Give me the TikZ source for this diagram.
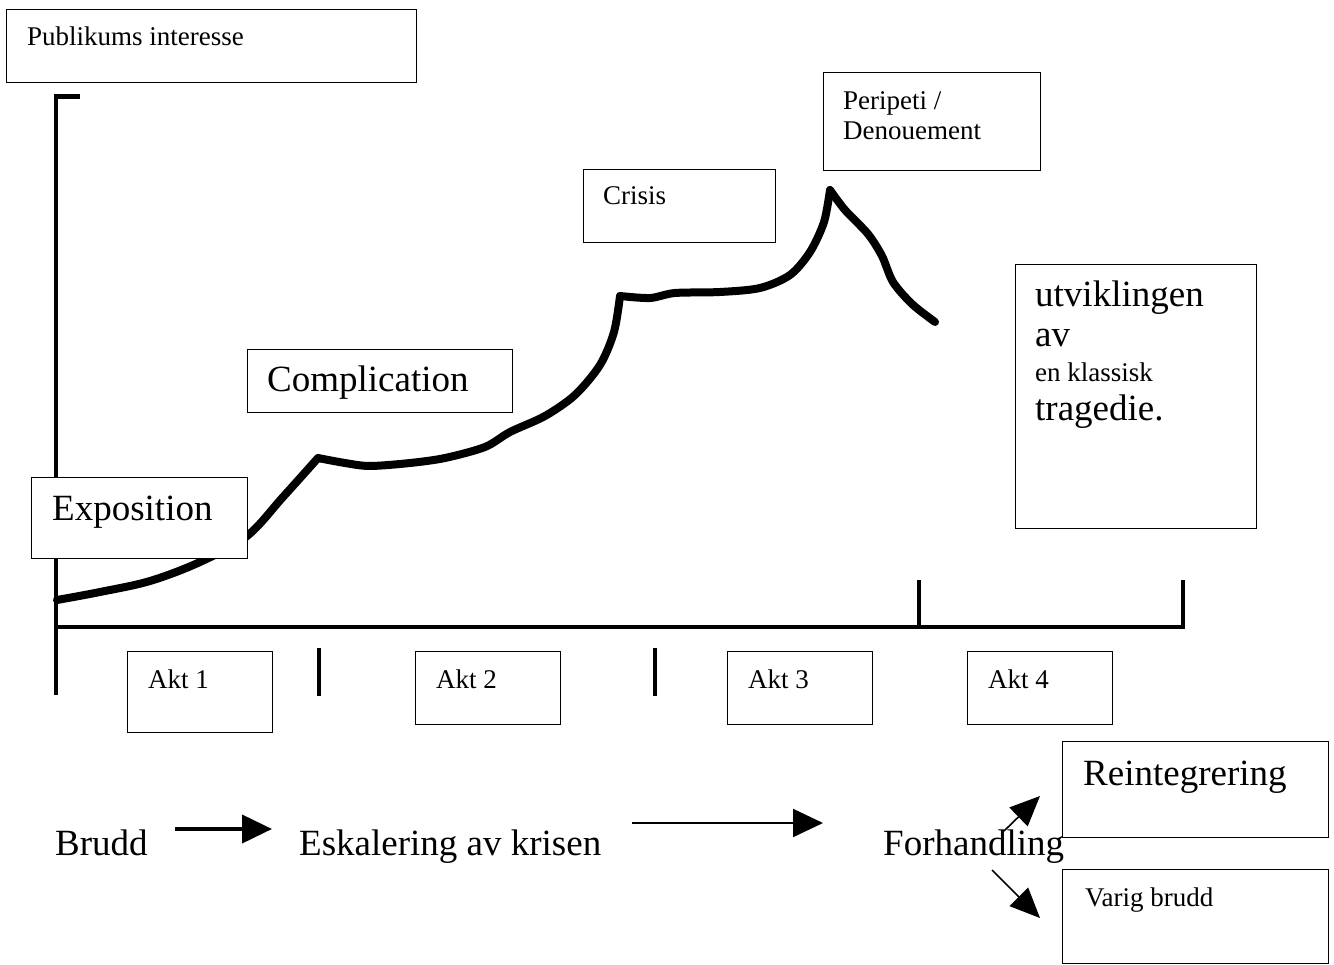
\documentclass[tikz,border=0pt]{standalone}
\usepackage{fontspec}
\setmainfont{Liberation Serif}
\usetikzlibrary{arrows.meta}
\tikzset{
  box/.style={draw=black, line width=1.2pt, fill=white, inner sep=0pt, anchor=north west},
  big/.style={font=\fontsize{37}{40}\selectfont, anchor=base west, inner sep=0pt},
  small/.style={font=\fontsize{27}{30}\selectfont, anchor=base west, inner sep=0pt},
  axis/.style={line width=4.5pt},
  curve/.style={line width=8pt, line cap=round, line join=round},
  bigarrow/.style={-{Triangle[length=30pt,width=28pt]}},
}
\begin{document}
\begin{tikzpicture}[x=1pt,y=-1pt]
\useasboundingbox[fill=white] (0,0) rectangle (1334,965);
% axes
\coordinate (ytop) at (56,94.5);
\coordinate (ystub) at (80,96.5);
\coordinate (ybot) at (56,695);
\coordinate (xl) at (56,627);
\coordinate (xr) at (1185,627);
\draw[axis, line cap=butt] (ystub) -- (56,96.5) -- (ybot);
\draw[axis] (xl) -- (xr);
\coordinate (t4a) at (1183,580); \coordinate (t4b) at (1183,629);
\coordinate (t3a) at (919,580); \coordinate (t3b) at (919,629);
\draw[axis] (t4a) -- (t4b);
\draw[axis] (t3a) -- (t3b);
\coordinate (k1a) at (319,648); \coordinate (k1b) at (319,696);
\coordinate (k2a) at (655,648); \coordinate (k2b) at (655,696);
\draw[axis] (k1a) -- (k1b);
\draw[axis] (k2a) -- (k2b);
% curve
\draw[curve] plot[smooth, tension=0.55] coordinates {(57,600) (100,592) (150,581) (200,562) (247,536) (283,497) (318,458)};
\draw[curve] plot[smooth, tension=0.5] coordinates {(318,458) (345,463) (370,466) (410,463) (445,458) (485,447) (510,432) (545,416) (575,395) (600,365) (614,332) (620,296)};
\draw[curve] plot[smooth, tension=0.5] coordinates {(620,296) (650,298) (675,293) (720,292) (760,288) (790,275) (810,252) (824,222) (830,190)};
\draw[curve] plot[smooth, tension=0.5] coordinates {(830,190) (845,210) (868,234) (882,256) (893,282) (912,304) (935,322)};
% boxes
\node[box, minimum width=410pt, minimum height=73pt] (pub) at (6,9) {};
\node[small] (publ) at (27,46) {Publikums interesse};
\node[box, minimum width=216pt, minimum height=81pt] (expo) at (31,477) {};
\node[big] (expol) at (52,521) {Exposition};
\node[box, minimum width=265pt, minimum height=63pt] (comp) at (247,349) {};
\node[big] (compl) at (267,392) {Complication};
\node[box, minimum width=192pt, minimum height=73pt] (cris) at (583,169) {};
\node[small] (crisl) at (603,205) {Crisis};
\node[box, minimum width=217pt, minimum height=98pt] (peri) at (823,72) {};
\node[small] (peril1) at (843,110) {Peripeti /};
\node[small] (peril2) at (843,140) {Denouement};
\node[box, minimum width=241pt, minimum height=264pt] (utv) at (1015,264) {};
\node[big] (utv1) at (1035,307) {utviklingen};
\node[big] (utv2) at (1035,347) {av};
\node[small] (utv3) at (1035,382) {en klassisk};
\node[big] (utv4) at (1035,421) {tragedie.};
% akt boxes
\node[box, minimum width=145pt, minimum height=81pt] (a1) at (127,651) {};
\node[small] (a1l) at (148,688) {Akt 1};
\node[box, minimum width=145pt, minimum height=73pt] (a2) at (415,651) {};
\node[small] (a2l) at (436,688) {Akt 2};
\node[box, minimum width=145pt, minimum height=73pt] (a3) at (727,651) {};
\node[small] (a3l) at (748,688) {Akt 3};
\node[box, minimum width=145pt, minimum height=73pt] (a4) at (967,651) {};
\node[small] (a4l) at (988,688) {Akt 4};
% bottom row
\node[big] (brudd) at (55,855) {Brudd};
\node[big] (esk) at (299,855) {Eskalering av krisen};
\node[big] (forh) at (883,855) {Forhandling};
\coordinate (ar1a) at (175,829); \coordinate (ar1b) at (272,829);
\draw[line width=4pt, bigarrow] (ar1a) -- (ar1b);
\coordinate (ar2a) at (632,823); \coordinate (ar2b) at (823,823);
\draw[line width=2.2pt, bigarrow] (ar2a) -- (ar2b);
\node[box, minimum width=266pt, minimum height=96pt] (rein) at (1062,741) {};
\node[big] (reinl) at (1083,785) {Reintegrering};
\node[box, minimum width=266pt, minimum height=94pt] (varig) at (1062,869) {};
\node[small] (varigl) at (1085,906) {Varig brudd};
\coordinate (ar3a) at (1004,831); \coordinate (ar3b) at (1040,796);
\coordinate (ar4a) at (992,870); \coordinate (ar4b) at (1040,918);
\draw[line width=1.6pt, -{Triangle[length=30pt,width=26pt]}] (ar3a) -- (ar3b);
\draw[line width=1.6pt, -{Triangle[length=30pt,width=26pt]}] (ar4a) -- (ar4b);
\end{tikzpicture}
\end{document}
